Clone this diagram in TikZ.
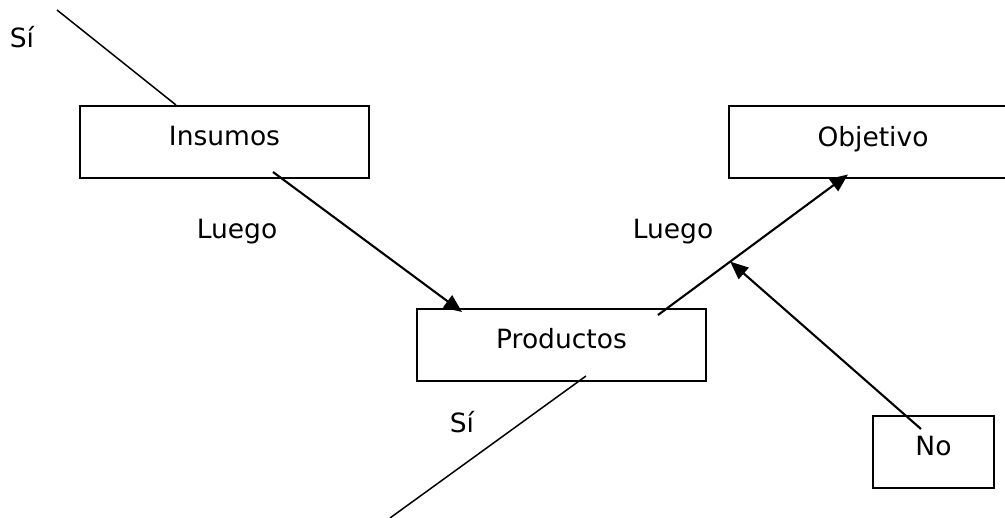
\documentclass[tikz,border=0pt]{standalone}
\usepackage{fontspec}
\setmainfont{DejaVu Sans}
\usetikzlibrary{arrows.meta,calc}

\tikzset{
  txt/.style={font=\fontsize{26.5}{31}\selectfont},
  box/.style={draw, line width=2pt, txt, minimum height=72pt,
              text height=16pt, text depth=8pt, inner sep=0pt},
  flow/.style={line width=2.1pt, -{Triangle[length=18pt,width=15pt]}},
  plain/.style={line width=1.5pt},
  lbl/.style={txt, anchor=base, inner sep=0pt}
}

\begin{document}
\begin{tikzpicture}[x=1pt,y=-1pt]
  \useasboundingbox (0,0) rectangle (1005,518);
  \clip (0,0) rectangle (1005,518);

  % boxes
  \node[box, minimum width=289pt] (ins)  at (224.5,142)   {Insumos};
  \node[box, minimum width=289pt] (prod) at (561.5,345)   {Productos};
  \node[box, minimum width=288pt] (obj)  at (873,142.5)   {Objetivo};
  \node[box, minimum width=121pt] (no)   at (933.5,452)   {No};

  % free ends of the open lines
  \coordinate (topend) at (57,10);
  \coordinate (botend) at (390,518);

  % open lines
  \draw[plain] (topend) -- ([xshift=97pt]ins.north west);
  \draw[plain] ([xshift=24.5pt,yshift=6pt]prod.south) -- (botend);

  % arrows
  \draw[flow] ([xshift=48.5pt,yshift=-30pt]ins.center)
           -- ([xshift=46pt,yshift=-4pt]prod.north west);
  \coordinate (pstart) at ([xshift=-49pt,yshift=-7pt]prod.north east);
  \coordinate (oend)   at ([xshift=120pt,yshift=5pt]obj.south west);
  \draw[flow] (pstart) -- (oend);
  \coordinate (meet) at ($(pstart)!0.38!(oend)$);
  \draw[flow] ([xshift=49pt,yshift=-14pt]no.north west) -- (meet);

  % labels
  \node[lbl] (si1) at (22,48)   {Sí};
  \node[lbl] (si2) at (462,433) {Sí};
  \node[lbl] (lg1) at (237,239) {Luego};
  \node[lbl] (lg2) at (673,239) {Luego};
\end{tikzpicture}
\end{document}
